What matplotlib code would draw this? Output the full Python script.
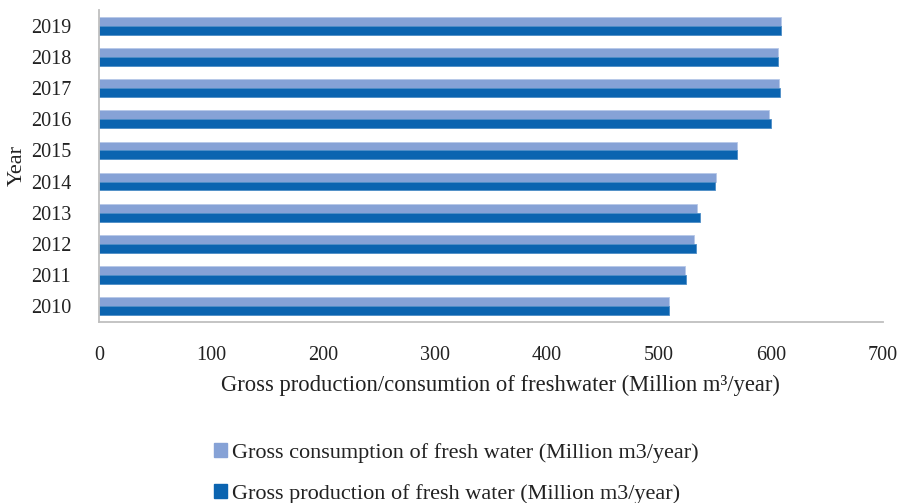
import matplotlib
matplotlib.use("Agg")
import matplotlib.pyplot as plt
from matplotlib.patches import Patch
import numpy as np

years = ["2010", "2011", "2012", "2013", "2014", "2015", "2016", "2017", "2018", "2019"]
consumption = [509, 523, 531, 534, 551, 570, 598, 607, 606, 609]
production = [509, 524, 533, 537, 550, 570, 600, 608, 606, 609]
x_ticks = [0, 100, 200, 300, 400, 500, 600, 700]

cons_color = "#86A2D6"
prod_color = "#0B64B0"

plt.rcParams["font.family"] = ["Liberation Serif", "DejaVu Serif"]

fig = plt.figure(figsize=(8.99, 5.03), dpi=100)
ax = fig.add_axes([0.110, 0.360, 0.872, 0.620])

y = np.arange(len(years))
h = 0.285
ax.barh(y + h / 2, consumption, height=h, color=cons_color, edgecolor="#B7C8E8", linewidth=0.6)
ax.barh(y - h / 2, production, height=h, color=prod_color, edgecolor="#4C8CC6", linewidth=0.6)

ax.set_xlim(0, 700)
ax.set_ylim(-0.5, len(years) - 0.5)
ax.set_yticks(y)
ax.set_yticklabels(years)
ax.set_xticks(x_ticks)
ax.tick_params(axis="both", length=0, labelsize=14.5, colors="#222222")
ax.tick_params(axis="y", pad=20)
ax.tick_params(axis="x", pad=17)

for side in ("top", "right"):
    ax.spines[side].set_visible(False)
for side in ("left", "bottom"):
    ax.spines[side].set_color("#BFBFBF")
    ax.spines[side].set_linewidth(1.3)

ax.set_xlabel("Gross production/consumtion of freshwater (Million m³/year)", fontsize=16.3,
              color="#222222")
ax.xaxis.set_label_coords(0.512, -0.17)
ax.set_ylabel("Year", fontsize=16, color="#222222", labelpad=3)

handles = [Patch(color=cons_color, label="Gross consumption of fresh water (Million m3/year)"),
           Patch(color=prod_color, label="Gross production of fresh water (Million m3/year)")]
fig.legend(handles=handles, loc="upper left", bbox_to_anchor=(0.238, 0.119),
           frameon=False, fontsize=16, handlelength=0.6, handleheight=0.6,
           handletextpad=0.2, labelspacing=0.95, borderaxespad=0, borderpad=0,
           labelcolor="#222222")

fig.savefig("out.png", dpi=100)
